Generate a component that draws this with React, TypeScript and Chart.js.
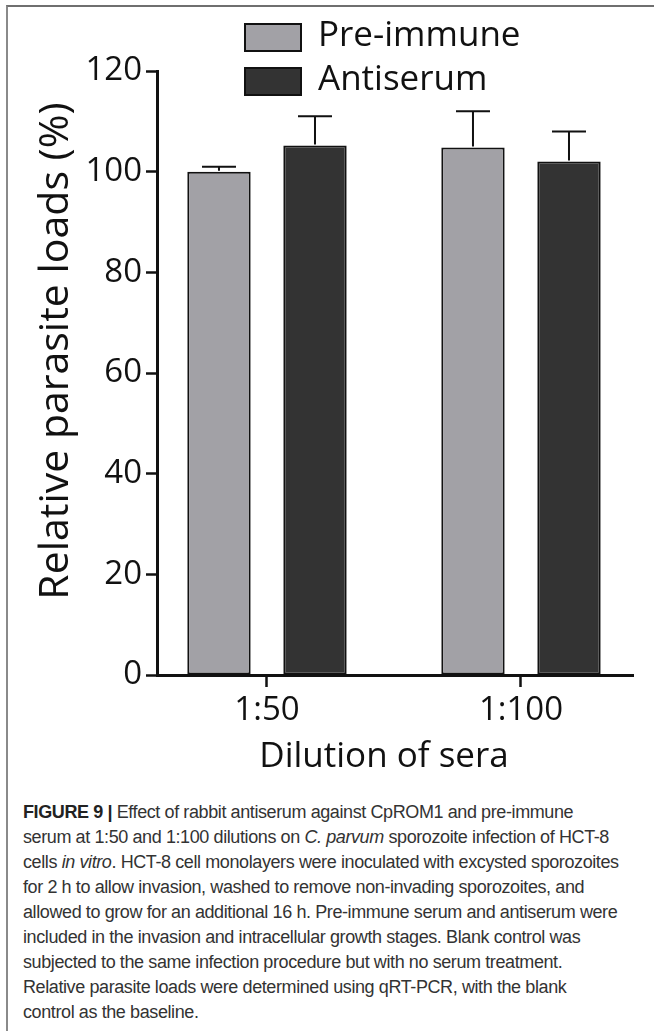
import React, { useEffect, useRef } from "react";
import { Chart, registerables } from "chart.js";

Chart.register(...registerables);

// ---- data ----
const categories = ["1:50", "1:100"];
const seriesNames = ["Pre-immune", "Antiserum"];
const preImmune = [100, 104.8];
const antiserum = [105.2, 102];
const preImmuneErr = [1, 7.2];
const antiserumErr = [5.8, 6];
const yTickValues = [0, 20, 40, 60, 80, 100, 120];
const yTitle = "Relative parasite loads (%)";
const xTitle = "Dilution of sera";

const seriesColors = ["#a2a1a6", "#333333"];
const FONT = "'Open Sans', 'DejaVu Sans', sans-serif";

const errorBarPlugin = {
  id: "errorBars",
  afterDatasetsDraw(chart: any) {
    const ctx = chart.ctx;
    const yScale = chart.scales.y;
    chart.data.datasets.forEach((ds: any, di: number) => {
      const meta = chart.getDatasetMeta(di);
      meta.data.forEach((el: any, i: number) => {
        const v = ds.data[i].y;
        const e = ds.errors[i];
        const yTop = yScale.getPixelForValue(v);
        const yErr = yScale.getPixelForValue(v + e);
        ctx.save();
        ctx.strokeStyle = "#111";
        ctx.lineWidth = 2;
        ctx.beginPath();
        ctx.moveTo(el.x, yTop - 1);
        ctx.lineTo(el.x, yErr);
        ctx.moveTo(el.x - 17, yErr);
        ctx.lineTo(el.x + 17, yErr);
        ctx.stroke();
        ctx.restore();
      });
    });
  },
};

const decorPlugin = {
  id: "decor",
  afterDraw(chart: any) {
    const ctx = chart.ctx;
    ctx.save();
    // legend
    chart.data.datasets.forEach((ds: any, i: number) => {
      const bx = 244;
      const by = 23 + i * 44;
      ctx.fillStyle = ds.backgroundColor;
      ctx.fillRect(bx, by, 58, 29);
      ctx.strokeStyle = "#111";
      ctx.lineWidth = 2;
      ctx.strokeRect(bx + 1, by + 1, 56, 27);
      ctx.fillStyle = "#111";
      ctx.font = `35px ${FONT}`;
      ctx.textAlign = "left";
      ctx.textBaseline = "middle";
      ctx.fillText(ds.label, 318, by + 13);
    });
    // y title
    ctx.save();
    ctx.translate(56, 351);
    ctx.rotate(-Math.PI / 2);
    ctx.font = `41px ${FONT}`;
    ctx.fillStyle = "#111";
    ctx.textAlign = "center";
    ctx.textBaseline = "middle";
    ctx.fillText(yTitle, 0, 0);
    ctx.restore();
    // x title
    ctx.font = `35px ${FONT}`;
    ctx.fillStyle = "#111";
    ctx.textAlign = "center";
    ctx.textBaseline = "alphabetic";
    ctx.fillText(xTitle, 384, 767);
    ctx.restore();
  },
};

function BarChart() {
  const ref = useRef<HTMLCanvasElement>(null);
  useEffect(() => {
    if (!ref.current) return;
    const data = {
      datasets: [
        {
          label: seriesNames[0],
          data: categories.map((_, i) => ({ x: i, y: preImmune[i] })),
          errors: preImmuneErr,
          backgroundColor: seriesColors[0],
          borderColor: "#111",
          borderWidth: 2,
          borderSkipped: false,
          categoryPercentage: 0.756,
          barPercentage: 0.66,
        },
        {
          label: seriesNames[1],
          data: categories.map((_, i) => ({ x: i, y: antiserum[i] })),
          errors: antiserumErr,
          backgroundColor: seriesColors[1],
          borderColor: "#111",
          borderWidth: 2,
          borderSkipped: false,
          categoryPercentage: 0.756,
          barPercentage: 0.66,
        },
      ],
    };
    const chart = new Chart(ref.current, {
      type: "bar",
      data: data as any,
      plugins: [errorBarPlugin, decorPlugin],
      options: {
        responsive: false,
        animation: false,
        layout: { padding: { top: 71, left: 0, right: 21, bottom: 0 } },
        plugins: { legend: { display: false }, tooltip: { enabled: false } },
        scales: {
          x: {
            type: "linear",
            offset: false,
            min: -0.433,
            max: 1.441,
            afterBuildTicks: (s: any) => {
              s.ticks = categories.map((_, i) => ({ value: i }));
            },
            afterFit: (s: any) => {
              s.height = 125;
            },
            ticks: {
              callback: (v: any) => categories[v] ?? "",
              font: { size: 33, family: FONT },
              color: "#111",
              padding: 4,
              maxRotation: 0,
              autoSkip: false,
            },
            grid: {
              offset: false,
              drawOnChartArea: false,
              drawTicks: true,
              tickLength: 12,
              tickWidth: 2.5,
              tickColor: "#111",
            },
            border: { display: true, color: "#111", width: 3 },
          },
          y: {
            min: 0,
            max: 120,
            afterBuildTicks: (s: any) => {
              s.ticks = yTickValues.map((v) => ({ value: v }));
            },
            afterFit: (s: any) => {
              s.width = 157;
            },
            ticks: {
              font: { size: 33, family: FONT },
              color: "#111",
              padding: 4,
            },
            grid: {
              drawOnChartArea: false,
              drawTicks: true,
              tickLength: 11,
              tickWidth: 2.5,
              tickColor: "#111",
            },
            border: { display: true, color: "#111", width: 3 },
          },
        },
      } as any,
    });
    return () => chart.destroy();
  }, []);
  return (
    <canvas
      ref={ref}
      width={654}
      height={800}
      style={{ position: "absolute", left: 0, top: 0, width: 654, height: 800, display: "block" }}
    />
  );
}

export default function App() {
  return (
    <div
      style={{
        position: "absolute",
        left: 0,
        top: 0,
        width: 654,
        height: 1031,
        background: "#fff",
        overflow: "hidden",
      }}
    >
      <div
        style={{
          position: "absolute",
          left: 6,
          top: 5,
          width: 700,
          height: 1100,
          borderTop: "2px solid #6f6f6f",
          borderLeft: "2px solid #8a8a8a",
        }}
      />
      <BarChart />
      <div
        style={{
          position: "absolute",
          left: 23,
          top: 800,
          width: 640,
          fontFamily: "'Liberation Sans', Arial, sans-serif",
          fontSize: 18,
          lineHeight: "25px",
          color: "#333",
          whiteSpace: "nowrap",
          letterSpacing: "-0.4px",
        }}
      >
        <b style={{ color: "#222" }}>FIGURE 9 |</b> Effect of rabbit antiserum against CpROM1 and pre-immune
        <br />
        serum at 1:50 and 1:100 dilutions on <i>C. parvum</i> sporozoite infection of HCT-8
        <br />
        cells <i>in vitro</i>. HCT-8 cell monolayers were inoculated with excysted sporozoites
        <br />
        for 2 h to allow invasion, washed to remove non-invading sporozoites, and
        <br />
        allowed to grow for an additional 16 h. Pre-immune serum and antiserum were
        <br />
        included in the invasion and intracellular growth stages. Blank control was
        <br />
        subjected to the same infection procedure but with no serum treatment.
        <br />
        Relative parasite loads were determined using qRT-PCR, with the blank
        <br />
        control as the baseline.
      </div>
    </div>
  );
}
